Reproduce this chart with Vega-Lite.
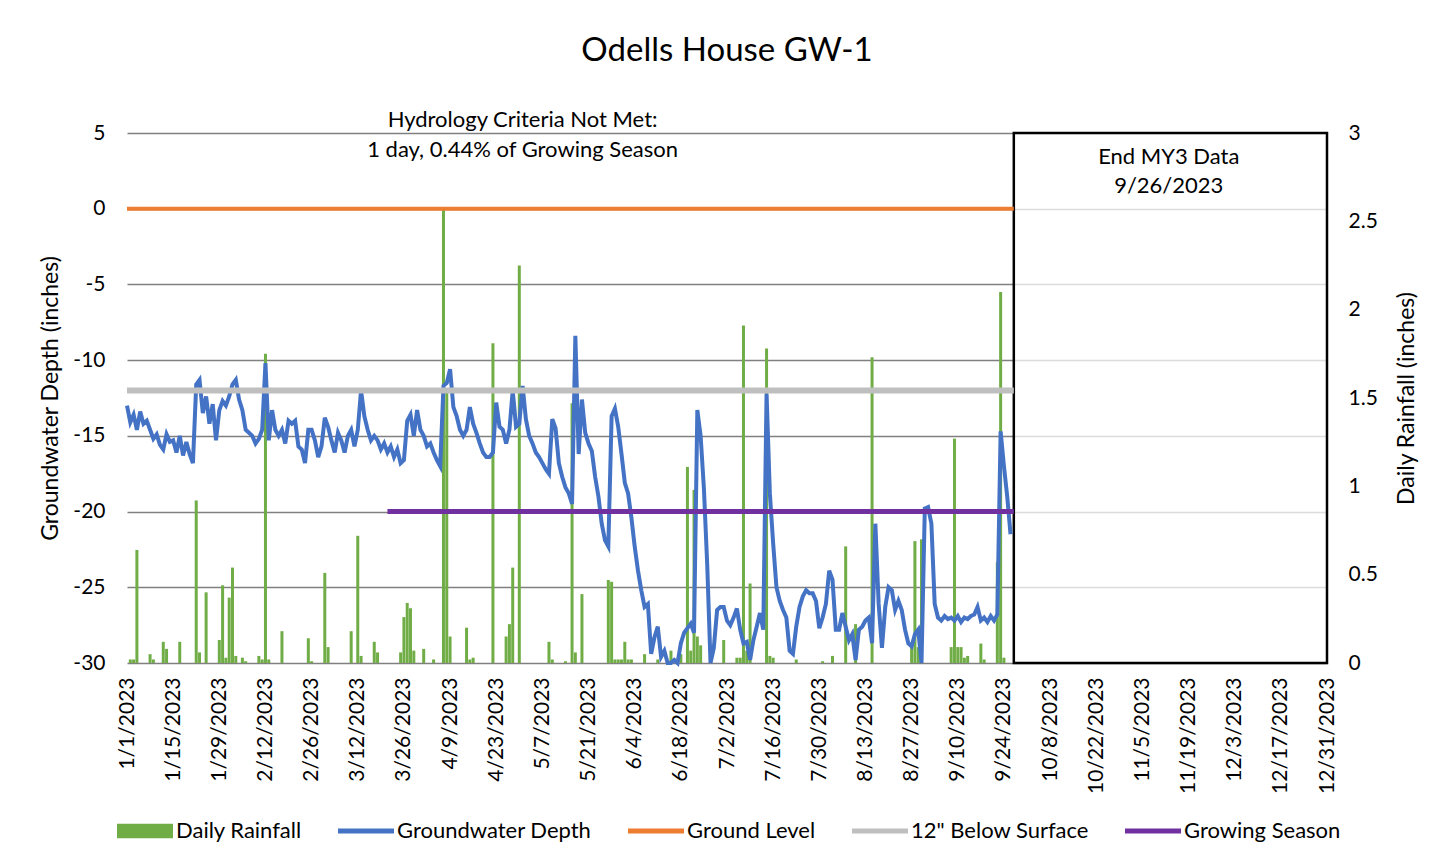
{
  "$schema": "https://vega.github.io/schema/vega-lite/v6.json",
  "width": 1200,
  "height": 530,
  "autosize": {"type": "none"},
  "padding": {"left": 127, "top": 133, "right": 126, "bottom": 204},
  "background": "white",
  "title": {"text": "Odells House GW-1", "fontSize": 33, "font": "Lato", "fontWeight": "normal", "color": "#000000", "anchor": "middle", "frame": "group", "offset": 41},
  "datasets": {
    "rain": [
      {"date": "2023-01-02", "rain": 0.02}, {"date": "2023-01-03", "rain": 0.02}, {"date": "2023-01-04", "rain": 0.64},
      {"date": "2023-01-08", "rain": 0.05}, {"date": "2023-01-09", "rain": 0.02}, {"date": "2023-01-12", "rain": 0.12},
      {"date": "2023-01-13", "rain": 0.08}, {"date": "2023-01-17", "rain": 0.12}, {"date": "2023-01-22", "rain": 0.92},
      {"date": "2023-01-23", "rain": 0.06}, {"date": "2023-01-25", "rain": 0.4}, {"date": "2023-01-29", "rain": 0.13},
      {"date": "2023-01-30", "rain": 0.44}, {"date": "2023-01-31", "rain": 0.03}, {"date": "2023-02-01", "rain": 0.37},
      {"date": "2023-02-02", "rain": 0.54}, {"date": "2023-02-03", "rain": 0.04}, {"date": "2023-02-05", "rain": 0.03},
      {"date": "2023-02-06", "rain": 0.01}, {"date": "2023-02-10", "rain": 0.04}, {"date": "2023-02-11", "rain": 0.02},
      {"date": "2023-02-12", "rain": 1.75}, {"date": "2023-02-13", "rain": 0.02}, {"date": "2023-02-17", "rain": 0.18},
      {"date": "2023-02-25", "rain": 0.14}, {"date": "2023-02-26", "rain": 0.01}, {"date": "2023-03-02", "rain": 0.51},
      {"date": "2023-03-03", "rain": 0.09}, {"date": "2023-03-10", "rain": 0.18}, {"date": "2023-03-12", "rain": 0.72},
      {"date": "2023-03-13", "rain": 0.04}, {"date": "2023-03-17", "rain": 0.12}, {"date": "2023-03-18", "rain": 0.06},
      {"date": "2023-03-25", "rain": 0.06}, {"date": "2023-03-26", "rain": 0.26}, {"date": "2023-03-27", "rain": 0.34},
      {"date": "2023-03-28", "rain": 0.31}, {"date": "2023-03-29", "rain": 0.07}, {"date": "2023-04-01", "rain": 0.08},
      {"date": "2023-04-04", "rain": 0.02}, {"date": "2023-04-07", "rain": 2.57}, {"date": "2023-04-08", "rain": 1.55},
      {"date": "2023-04-09", "rain": 0.15}, {"date": "2023-04-14", "rain": 0.2}, {"date": "2023-04-15", "rain": 0.02},
      {"date": "2023-04-16", "rain": 0.03}, {"date": "2023-04-22", "rain": 1.81}, {"date": "2023-04-26", "rain": 0.15},
      {"date": "2023-04-27", "rain": 0.22}, {"date": "2023-04-28", "rain": 0.54}, {"date": "2023-04-30", "rain": 2.25},
      {"date": "2023-05-09", "rain": 0.12}, {"date": "2023-05-10", "rain": 0.02}, {"date": "2023-05-14", "rain": 0.01},
      {"date": "2023-05-16", "rain": 1.47}, {"date": "2023-05-17", "rain": 0.06}, {"date": "2023-05-19", "rain": 0.39},
      {"date": "2023-05-27", "rain": 0.47}, {"date": "2023-05-28", "rain": 0.46}, {"date": "2023-05-29", "rain": 0.02},
      {"date": "2023-05-30", "rain": 0.02}, {"date": "2023-05-31", "rain": 0.02}, {"date": "2023-06-01", "rain": 0.12},
      {"date": "2023-06-02", "rain": 0.02}, {"date": "2023-06-03", "rain": 0.02}, {"date": "2023-06-07", "rain": 0.05},
      {"date": "2023-06-11", "rain": 0.02}, {"date": "2023-06-15", "rain": 0.07}, {"date": "2023-06-18", "rain": 0.05},
      {"date": "2023-06-20", "rain": 1.11}, {"date": "2023-06-21", "rain": 0.07}, {"date": "2023-06-22", "rain": 0.98},
      {"date": "2023-06-23", "rain": 0.15}, {"date": "2023-06-24", "rain": 0.1}, {"date": "2023-07-01", "rain": 0.13},
      {"date": "2023-07-05", "rain": 0.03}, {"date": "2023-07-06", "rain": 0.03}, {"date": "2023-07-07", "rain": 1.91},
      {"date": "2023-07-08", "rain": 0.07}, {"date": "2023-07-09", "rain": 0.45}, {"date": "2023-07-14", "rain": 1.78},
      {"date": "2023-07-15", "rain": 0.04}, {"date": "2023-07-16", "rain": 0.03}, {"date": "2023-07-23", "rain": 0.02},
      {"date": "2023-07-31", "rain": 0.01}, {"date": "2023-08-03", "rain": 0.04}, {"date": "2023-08-07", "rain": 0.66},
      {"date": "2023-08-10", "rain": 0.22}, {"date": "2023-08-15", "rain": 1.73}, {"date": "2023-08-27", "rain": 0.09},
      {"date": "2023-08-28", "rain": 0.69}, {"date": "2023-08-29", "rain": 0.09}, {"date": "2023-08-30", "rain": 0.7},
      {"date": "2023-09-08", "rain": 0.09}, {"date": "2023-09-09", "rain": 1.27}, {"date": "2023-09-10", "rain": 0.09},
      {"date": "2023-09-11", "rain": 0.09}, {"date": "2023-09-12", "rain": 0.03}, {"date": "2023-09-13", "rain": 0.04},
      {"date": "2023-09-17", "rain": 0.11}, {"date": "2023-09-18", "rain": 0.02}, {"date": "2023-09-22", "rain": 0.57},
      {"date": "2023-09-23", "rain": 2.1}, {"date": "2023-09-24", "rain": 0.03}
    ],
    "gw": [
      {"date": "2023-01-01", "v": -13.0}, {"date": "2023-01-02", "v": -14.1}, {"date": "2023-01-03", "v": -13.6}, {"date": "2023-01-04", "v": -14.6},
      {"date": "2023-01-05", "v": -13.4}, {"date": "2023-01-06", "v": -14.2}, {"date": "2023-01-07", "v": -14.0}, {"date": "2023-01-08", "v": -14.6},
      {"date": "2023-01-09", "v": -15.2}, {"date": "2023-01-10", "v": -14.9}, {"date": "2023-01-11", "v": -15.6}, {"date": "2023-01-12", "v": -15.9},
      {"date": "2023-01-13", "v": -14.9}, {"date": "2023-01-14", "v": -15.4}, {"date": "2023-01-15", "v": -15.3}, {"date": "2023-01-16", "v": -16.1},
      {"date": "2023-01-17", "v": -15.0}, {"date": "2023-01-18", "v": -16.3}, {"date": "2023-01-19", "v": -15.4}, {"date": "2023-01-20", "v": -16.2},
      {"date": "2023-01-21", "v": -16.8}, {"date": "2023-01-22", "v": -11.6}, {"date": "2023-01-23", "v": -11.3}, {"date": "2023-01-24", "v": -13.5},
      {"date": "2023-01-25", "v": -12.4}, {"date": "2023-01-26", "v": -14.2}, {"date": "2023-01-27", "v": -12.9}, {"date": "2023-01-28", "v": -15.3},
      {"date": "2023-01-29", "v": -13.3}, {"date": "2023-01-30", "v": -12.7}, {"date": "2023-01-31", "v": -13.0}, {"date": "2023-02-01", "v": -12.4},
      {"date": "2023-02-02", "v": -11.6}, {"date": "2023-02-03", "v": -11.3}, {"date": "2023-02-04", "v": -12.6}, {"date": "2023-02-05", "v": -13.3},
      {"date": "2023-02-06", "v": -14.6}, {"date": "2023-02-07", "v": -14.8}, {"date": "2023-02-08", "v": -15.0}, {"date": "2023-02-09", "v": -15.5},
      {"date": "2023-02-10", "v": -15.2}, {"date": "2023-02-11", "v": -14.6}, {"date": "2023-02-12", "v": -10.2}, {"date": "2023-02-13", "v": -15.3},
      {"date": "2023-02-14", "v": -13.3}, {"date": "2023-02-15", "v": -14.6}, {"date": "2023-02-16", "v": -15.0}, {"date": "2023-02-17", "v": -14.6},
      {"date": "2023-02-18", "v": -15.5}, {"date": "2023-02-19", "v": -14.0}, {"date": "2023-02-20", "v": -14.2}, {"date": "2023-02-21", "v": -14.0},
      {"date": "2023-02-22", "v": -15.7}, {"date": "2023-02-23", "v": -15.9}, {"date": "2023-02-24", "v": -16.8}, {"date": "2023-02-25", "v": -14.6},
      {"date": "2023-02-26", "v": -14.6}, {"date": "2023-02-27", "v": -15.3}, {"date": "2023-02-28", "v": -16.4}, {"date": "2023-03-01", "v": -15.7},
      {"date": "2023-03-02", "v": -13.8}, {"date": "2023-03-03", "v": -14.4}, {"date": "2023-03-04", "v": -15.3}, {"date": "2023-03-05", "v": -16.1},
      {"date": "2023-03-06", "v": -14.8}, {"date": "2023-03-07", "v": -15.3}, {"date": "2023-03-08", "v": -16.1}, {"date": "2023-03-09", "v": -15.0},
      {"date": "2023-03-10", "v": -14.6}, {"date": "2023-03-11", "v": -15.7}, {"date": "2023-03-12", "v": -14.6}, {"date": "2023-03-13", "v": -12.0},
      {"date": "2023-03-14", "v": -13.7}, {"date": "2023-03-15", "v": -14.6}, {"date": "2023-03-16", "v": -15.3}, {"date": "2023-03-17", "v": -15.0},
      {"date": "2023-03-18", "v": -15.3}, {"date": "2023-03-19", "v": -15.9}, {"date": "2023-03-20", "v": -15.5}, {"date": "2023-03-21", "v": -16.1},
      {"date": "2023-03-22", "v": -15.7}, {"date": "2023-03-23", "v": -16.4}, {"date": "2023-03-24", "v": -15.9}, {"date": "2023-03-25", "v": -16.8},
      {"date": "2023-03-26", "v": -16.6}, {"date": "2023-03-27", "v": -14.0}, {"date": "2023-03-28", "v": -13.6}, {"date": "2023-03-29", "v": -15.0},
      {"date": "2023-03-30", "v": -13.3}, {"date": "2023-03-31", "v": -14.6}, {"date": "2023-04-01", "v": -15.0}, {"date": "2023-04-02", "v": -15.7},
      {"date": "2023-04-03", "v": -15.5}, {"date": "2023-04-04", "v": -16.1}, {"date": "2023-04-05", "v": -16.6}, {"date": "2023-04-06", "v": -17.0},
      {"date": "2023-04-07", "v": -11.7}, {"date": "2023-04-08", "v": -11.5}, {"date": "2023-04-09", "v": -10.6}, {"date": "2023-04-10", "v": -13.1},
      {"date": "2023-04-11", "v": -13.7}, {"date": "2023-04-12", "v": -14.6}, {"date": "2023-04-13", "v": -15.0}, {"date": "2023-04-14", "v": -14.6},
      {"date": "2023-04-15", "v": -13.1}, {"date": "2023-04-16", "v": -14.2}, {"date": "2023-04-17", "v": -14.8}, {"date": "2023-04-18", "v": -15.5},
      {"date": "2023-04-19", "v": -16.1}, {"date": "2023-04-20", "v": -16.4}, {"date": "2023-04-21", "v": -16.4}, {"date": "2023-04-22", "v": -16.1},
      {"date": "2023-04-23", "v": -12.8}, {"date": "2023-04-24", "v": -14.4}, {"date": "2023-04-25", "v": -14.6}, {"date": "2023-04-26", "v": -15.5},
      {"date": "2023-04-27", "v": -14.6}, {"date": "2023-04-28", "v": -12.0}, {"date": "2023-04-29", "v": -14.4}, {"date": "2023-04-30", "v": -14.2},
      {"date": "2023-05-01", "v": -11.7}, {"date": "2023-05-02", "v": -13.9}, {"date": "2023-05-03", "v": -15.0}, {"date": "2023-05-04", "v": -15.5},
      {"date": "2023-05-05", "v": -16.1}, {"date": "2023-05-06", "v": -16.4}, {"date": "2023-05-07", "v": -16.8}, {"date": "2023-05-08", "v": -17.2},
      {"date": "2023-05-09", "v": -17.5}, {"date": "2023-05-10", "v": -13.9}, {"date": "2023-05-11", "v": -14.5}, {"date": "2023-05-12", "v": -16.8},
      {"date": "2023-05-13", "v": -17.7}, {"date": "2023-05-14", "v": -18.4}, {"date": "2023-05-15", "v": -18.8}, {"date": "2023-05-16", "v": -19.5},
      {"date": "2023-05-17", "v": -8.4}, {"date": "2023-05-18", "v": -16.2}, {"date": "2023-05-19", "v": -12.6}, {"date": "2023-05-20", "v": -14.8},
      {"date": "2023-05-21", "v": -15.5}, {"date": "2023-05-22", "v": -16.0}, {"date": "2023-05-23", "v": -17.7}, {"date": "2023-05-24", "v": -19.0},
      {"date": "2023-05-25", "v": -20.8}, {"date": "2023-05-26", "v": -21.9}, {"date": "2023-05-27", "v": -22.3}, {"date": "2023-05-28", "v": -13.7},
      {"date": "2023-05-29", "v": -13.2}, {"date": "2023-05-30", "v": -14.4}, {"date": "2023-05-31", "v": -16.2}, {"date": "2023-06-01", "v": -18.1},
      {"date": "2023-06-02", "v": -18.8}, {"date": "2023-06-03", "v": -20.4}, {"date": "2023-06-04", "v": -22.3}, {"date": "2023-06-05", "v": -23.9},
      {"date": "2023-06-06", "v": -25.2}, {"date": "2023-06-07", "v": -26.3}, {"date": "2023-06-08", "v": -26.1}, {"date": "2023-06-09", "v": -29.4},
      {"date": "2023-06-10", "v": -28.3}, {"date": "2023-06-11", "v": -27.6}, {"date": "2023-06-12", "v": -29.6}, {"date": "2023-06-13", "v": -29.2},
      {"date": "2023-06-14", "v": -30.0}, {"date": "2023-06-15", "v": -30.0}, {"date": "2023-06-16", "v": -29.8}, {"date": "2023-06-17", "v": -30.0},
      {"date": "2023-06-18", "v": -28.7}, {"date": "2023-06-19", "v": -28.0}, {"date": "2023-06-20", "v": -27.7}, {"date": "2023-06-21", "v": -27.4},
      {"date": "2023-06-22", "v": -28.0}, {"date": "2023-06-23", "v": -13.3}, {"date": "2023-06-24", "v": -15.0}, {"date": "2023-06-25", "v": -18.5},
      {"date": "2023-06-26", "v": -23.5}, {"date": "2023-06-27", "v": -30.0}, {"date": "2023-06-28", "v": -29.0}, {"date": "2023-06-29", "v": -26.5},
      {"date": "2023-06-30", "v": -26.3}, {"date": "2023-07-01", "v": -26.3}, {"date": "2023-07-02", "v": -27.2}, {"date": "2023-07-03", "v": -27.5},
      {"date": "2023-07-04", "v": -27.0}, {"date": "2023-07-05", "v": -26.4}, {"date": "2023-07-06", "v": -27.8}, {"date": "2023-07-07", "v": -28.7},
      {"date": "2023-07-08", "v": -28.6}, {"date": "2023-07-09", "v": -29.8}, {"date": "2023-07-10", "v": -28.5}, {"date": "2023-07-11", "v": -27.6},
      {"date": "2023-07-12", "v": -26.7}, {"date": "2023-07-13", "v": -27.8}, {"date": "2023-07-14", "v": -12.2}, {"date": "2023-07-15", "v": -18.8},
      {"date": "2023-07-16", "v": -22.1}, {"date": "2023-07-17", "v": -25.0}, {"date": "2023-07-18", "v": -25.9}, {"date": "2023-07-19", "v": -26.5},
      {"date": "2023-07-20", "v": -27.0}, {"date": "2023-07-21", "v": -29.2}, {"date": "2023-07-22", "v": -29.4}, {"date": "2023-07-23", "v": -27.6},
      {"date": "2023-07-24", "v": -26.3}, {"date": "2023-07-25", "v": -25.6}, {"date": "2023-07-26", "v": -25.2}, {"date": "2023-07-27", "v": -25.4},
      {"date": "2023-07-28", "v": -25.4}, {"date": "2023-07-29", "v": -25.9}, {"date": "2023-07-30", "v": -27.7}, {"date": "2023-07-31", "v": -27.0},
      {"date": "2023-08-01", "v": -26.1}, {"date": "2023-08-02", "v": -23.9}, {"date": "2023-08-03", "v": -24.5}, {"date": "2023-08-04", "v": -27.8},
      {"date": "2023-08-05", "v": -27.8}, {"date": "2023-08-06", "v": -26.7}, {"date": "2023-08-07", "v": -27.6}, {"date": "2023-08-08", "v": -28.5},
      {"date": "2023-08-09", "v": -28.1}, {"date": "2023-08-10", "v": -29.8}, {"date": "2023-08-11", "v": -27.8}, {"date": "2023-08-12", "v": -27.6},
      {"date": "2023-08-13", "v": -27.2}, {"date": "2023-08-14", "v": -27.0}, {"date": "2023-08-15", "v": -28.7}, {"date": "2023-08-16", "v": -20.8},
      {"date": "2023-08-17", "v": -26.1}, {"date": "2023-08-18", "v": -29.0}, {"date": "2023-08-19", "v": -26.3}, {"date": "2023-08-20", "v": -25.0},
      {"date": "2023-08-21", "v": -25.2}, {"date": "2023-08-22", "v": -26.5}, {"date": "2023-08-23", "v": -25.9}, {"date": "2023-08-24", "v": -26.5},
      {"date": "2023-08-25", "v": -27.8}, {"date": "2023-08-26", "v": -28.7}, {"date": "2023-08-27", "v": -28.9}, {"date": "2023-08-28", "v": -28.1},
      {"date": "2023-08-29", "v": -27.8}, {"date": "2023-08-30", "v": -30.0}, {"date": "2023-08-31", "v": -19.8}, {"date": "2023-09-01", "v": -19.7},
      {"date": "2023-09-02", "v": -20.8}, {"date": "2023-09-03", "v": -26.1}, {"date": "2023-09-04", "v": -27.0}, {"date": "2023-09-05", "v": -27.2},
      {"date": "2023-09-06", "v": -26.9}, {"date": "2023-09-07", "v": -27.1}, {"date": "2023-09-08", "v": -27.0}, {"date": "2023-09-09", "v": -27.2},
      {"date": "2023-09-10", "v": -26.9}, {"date": "2023-09-11", "v": -27.3}, {"date": "2023-09-12", "v": -27.0}, {"date": "2023-09-13", "v": -27.1},
      {"date": "2023-09-14", "v": -26.9}, {"date": "2023-09-15", "v": -26.8}, {"date": "2023-09-16", "v": -26.3}, {"date": "2023-09-17", "v": -27.2},
      {"date": "2023-09-18", "v": -27.0}, {"date": "2023-09-19", "v": -27.3}, {"date": "2023-09-20", "v": -26.9}, {"date": "2023-09-21", "v": -27.2},
      {"date": "2023-09-22", "v": -26.8}, {"date": "2023-09-23", "v": -14.7}, {"date": "2023-09-24", "v": -17.0}, {"date": "2023-09-25", "v": -19.0},
      {"date": "2023-09-26", "v": -21.5}
    ],
    "refs": [
      {"series": "Ground Level", "date": "2023-01-01", "v": 0}, {"series": "Ground Level", "date": "2023-09-27", "v": 0},
      {"series": "12\" Below Surface", "date": "2023-01-01", "v": -12}, {"series": "12\" Below Surface", "date": "2023-09-27", "v": -12},
      {"series": "Growing Season", "date": "2023-03-21", "v": -20}, {"series": "Growing Season", "date": "2023-09-27", "v": -20}
    ],
    "box": [{"date": "2023-09-27", "date2": "2023-12-31", "v": 5, "v2": -30}],
    "notes": [
      {"date": "2023-05-01", "v": 5.86, "label": "Hydrology Criteria Not Met:"},
      {"date": "2023-05-01", "v": 3.88, "label": "1 day, 0.44% of Growing Season"},
      {"date": "2023-11-13", "v": 3.42, "label": "End MY3 Data"},
      {"date": "2023-11-13", "v": 1.5, "label": "9/26/2023"}
    ]
  },
  "encoding": {
    "x": {
      "field": "date", "type": "temporal",
      "scale": {"type": "utc", "padding": 0, "nice": false, "domain": [{"year": 2023, "month": 1, "date": 1, "utc": true}, {"year": 2023, "month": 12, "date": 31, "utc": true}]},
      "axis": {
        "title": null, "grid": false, "domain": false, "ticks": false,
        "values": [1672531200000, 1673740800000, 1674950400000, 1676160000000, 1677369600000, 1678579200000, 1679788800000, 1680998400000, 1682208000000, 1683417600000, 1684627200000, 1685836800000, 1687046400000, 1688256000000, 1689465600000, 1690675200000, 1691884800000, 1693094400000, 1694304000000, 1695513600000, 1696723200000, 1697932800000, 1699142400000, 1700352000000, 1701561600000, 1702771200000, 1703980800000],
        "labelExpr": "utcFormat(datum.value, '%-m/%-d/%Y')",
        "labelAngle": -90, "labelPadding": 14, "labelFontSize": 21, "labelOverlap": false, "labelBound": false, "labelFlush": false
      }
    }
  },
  "layer": [
    {
      "data": {"name": "rain"},
      "mark": {"type": "bar", "size": 3},
      "encoding": {
        "y": {
          "field": "rain", "type": "quantitative",
          "scale": {"domain": [0, 3], "nice": false, "zero": true},
          "axis": {"orient": "right", "values": [0, 0.5, 1, 1.5, 2, 2.5, 3], "labelExpr": "'' + datum.value", "grid": false, "domain": false, "ticks": false, "labelPadding": 21, "labelFontSize": 21, "title": "Daily Rainfall (inches)", "titleFontSize": 23, "titleAngle": 270, "titleBaseline": "top", "titlePadding": 18}
        },
        "color": {
          "datum": "Daily Rainfall",
          "title": null,
          "scale": {"domain": ["Daily Rainfall", "Groundwater Depth", "Ground Level", "12\" Below Surface", "Growing Season"], "range": ["#70AD47", "#4472C4", "#ED7D31", "#BFBFBF", "#7030A0"]},
          "legend": {
            "orient": "none", "legendX": -10, "legendY": 670, "direction": "horizontal", "title": null,
            "symbolType": "M-1,-0.1H1V0.1H-1Z", "symbolSize": 3136, "symbolStrokeWidth": 0,
            "labelFontSize": 22, "labelFont": "Lato", "labelColor": "#000000", "labelOffset": 3, "columnPadding": 36, "padding": 0, "labelLimit": 400,
            "encode": {"symbols": {"update": {
              "fill": {"scale": "color", "field": "value"},
              "stroke": {"value": "transparent"},
              "opacity": {"value": 1},
              "fillOpacity": {"value": 1},
              "shape": {"signal": "datum.value === 'Daily Rainfall' ? 'M-1,-0.26H1V0.26H-1Z' : 'M-1,-0.09H1V0.09H-1Z'"}
            }}}
          }
        }
      }
    },
    {
      "layer": [
        {
          "data": {"name": "box"},
          "mark": {"type": "rect", "fill": "white", "fillOpacity": 0.72, "stroke": "black", "strokeWidth": 2.5},
          "encoding": {
            "x2": {"field": "date2"},
            "y": {
              "field": "v", "type": "quantitative",
              "scale": {"domain": [-30, 5], "nice": false, "zero": false},
              "axis": {"orient": "left", "values": [-30, -25, -20, -15, -10, -5, 0, 5], "labelExpr": "'' + datum.value", "grid": true, "gridColor": "#808080", "gridWidth": 1.5, "domain": false, "ticks": false, "labelPadding": 22, "labelFontSize": 21, "title": "Groundwater Depth (inches)", "titleFontSize": 23, "titlePadding": 10}
            },
            "y2": {"field": "v2"}
          }
        },
        {
          "data": {"name": "gw"},
          "mark": {"type": "line", "strokeWidth": 4},
          "encoding": {
            "y": {"field": "v", "type": "quantitative"},
            "color": {"datum": "Groundwater Depth", "title": null}
          }
        },
        {
          "data": {"name": "refs"},
          "transform": [{"filter": "datum.series === 'Ground Level'"}],
          "mark": {"type": "line", "strokeWidth": 4},
          "encoding": {
            "y": {"field": "v", "type": "quantitative"},
            "color": {"field": "series", "type": "nominal", "title": null}
          }
        },
        {
          "data": {"name": "refs"},
          "transform": [{"filter": "datum.series === '12\" Below Surface'"}],
          "mark": {"type": "line", "strokeWidth": 6},
          "encoding": {
            "y": {"field": "v", "type": "quantitative"},
            "color": {"field": "series", "type": "nominal", "title": null}
          }
        },
        {
          "data": {"name": "refs"},
          "transform": [{"filter": "datum.series === 'Growing Season'"}],
          "mark": {"type": "line", "strokeWidth": 5},
          "encoding": {
            "y": {"field": "v", "type": "quantitative"},
            "color": {"field": "series", "type": "nominal", "title": null}
          }
        },
        {
          "data": {"name": "notes"},
          "mark": {"type": "text", "font": "Lato", "fontSize": 22, "color": "#000000", "align": "center", "baseline": "middle"},
          "encoding": {
            "y": {"field": "v", "type": "quantitative"},
            "text": {"field": "label"}
          }
        }
      ]
    }
  ],
  "resolve": {"scale": {"y": "independent"}},
  "config": {
    "font": "Lato",
    "view": {"stroke": null},
    "axis": {"labelFont": "Lato", "titleFont": "Lato", "labelColor": "#000000", "titleColor": "#000000", "titleFontWeight": "normal"},
    "legend": {"labelFont": "Lato"}
  }
}
